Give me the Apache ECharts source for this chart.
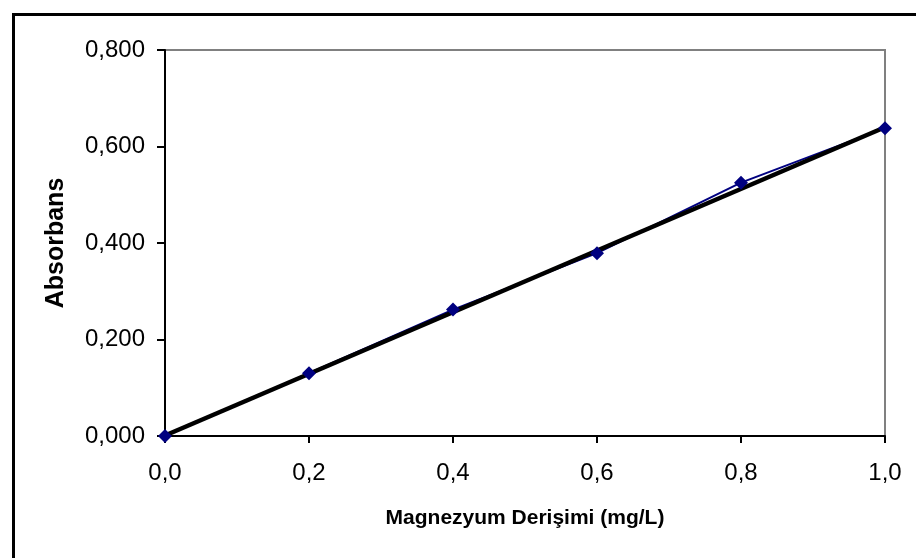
<!DOCTYPE html>
<html lang="tr">
<head>
<meta charset="UTF-8">
<title>Magnezyum kalibrasyon</title>
<script src="https://cdn.jsdelivr.net/npm/echarts@6/dist/echarts.min.js"></script>
<style>
  html, body { margin: 0; padding: 0; background: #fff; }
  #chart { width: 916px; height: 558px; }
</style>
</head>
<body>
<div id="chart"></div>
<script>
// values
var concentrations = [0.0, 0.2, 0.4, 0.6, 0.8, 1.0];
var absorbance = [0.000, 0.130, 0.262, 0.379, 0.525, 0.638];
// linear trendline end points (x, y)
var trendX = [0.0, 1.0];
var trendY = [0.001, 0.640];

var measured = concentrations.map(function (c, i) { return [c, absorbance[i]]; });
var trend = trendX.map(function (c, i) { return [c, trendY[i]]; });

var chart = echarts.init(document.getElementById('chart'));
var font = '"Liberation Sans", Arial, sans-serif';

chart.setOption({
  animation: false,
  backgroundColor: '#fff',
  graphic: [{
    type: 'rect',
    shape: { x: 13.5, y: 14.5, width: 1000, height: 1000 },
    style: { fill: 'none', stroke: '#000', lineWidth: 3 },
    silent: true
  }],
  grid: {
    left: 165, top: 50, right: 31, bottom: 122,
    show: true, borderColor: '#808080', borderWidth: 2, backgroundColor: 'transparent'
  },
  xAxis: {
    type: 'value', min: 0, max: 1, interval: 0.2,
    name: 'Magnezyum Derişimi (mg/L)', nameLocation: 'middle', nameGap: 72,
    nameTextStyle: { fontFamily: font, fontSize: 21, fontWeight: 'bold', color: '#000' },
    axisLine: { lineStyle: { color: '#000', width: 2 } },
    axisTick: { inside: false, length: 7, lineStyle: { color: '#000', width: 2 } },
    axisLabel: {
      margin: 25, fontFamily: font, fontSize: 24, color: '#000',
      formatter: function (v) { return v.toFixed(1).replace('.', ','); }
    },
    splitLine: { show: false }
  },
  yAxis: {
    type: 'value', min: 0, max: 0.8, interval: 0.2,
    name: 'Absorbans', nameLocation: 'middle', nameGap: 96,
    nameTextStyle: { fontFamily: font, fontSize: 25, fontWeight: 'bold', color: '#000' },
    axisLine: { lineStyle: { color: '#000', width: 2 } },
    axisTick: { inside: false, length: 8, lineStyle: { color: '#000', width: 2 } },
    axisLabel: {
      margin: 20, fontFamily: font, fontSize: 24, color: '#000',
      formatter: function (v) { return v.toFixed(3).replace('.', ','); }
    },
    splitLine: { show: false }
  },
  series: [{
    name: 'Absorbans',
    type: 'line',
    data: measured,
    symbol: 'diamond',
    symbolSize: 14,
    itemStyle: { color: '#000080' },
    lineStyle: { color: '#000080', width: 2 }
  }, {
    name: 'Doğrusal',
    type: 'line',
    data: trend,
    showSymbol: false,
    symbol: 'none',
    lineStyle: { color: '#000', width: 4.5 }
  }]
});
</script>
</body>
</html>
